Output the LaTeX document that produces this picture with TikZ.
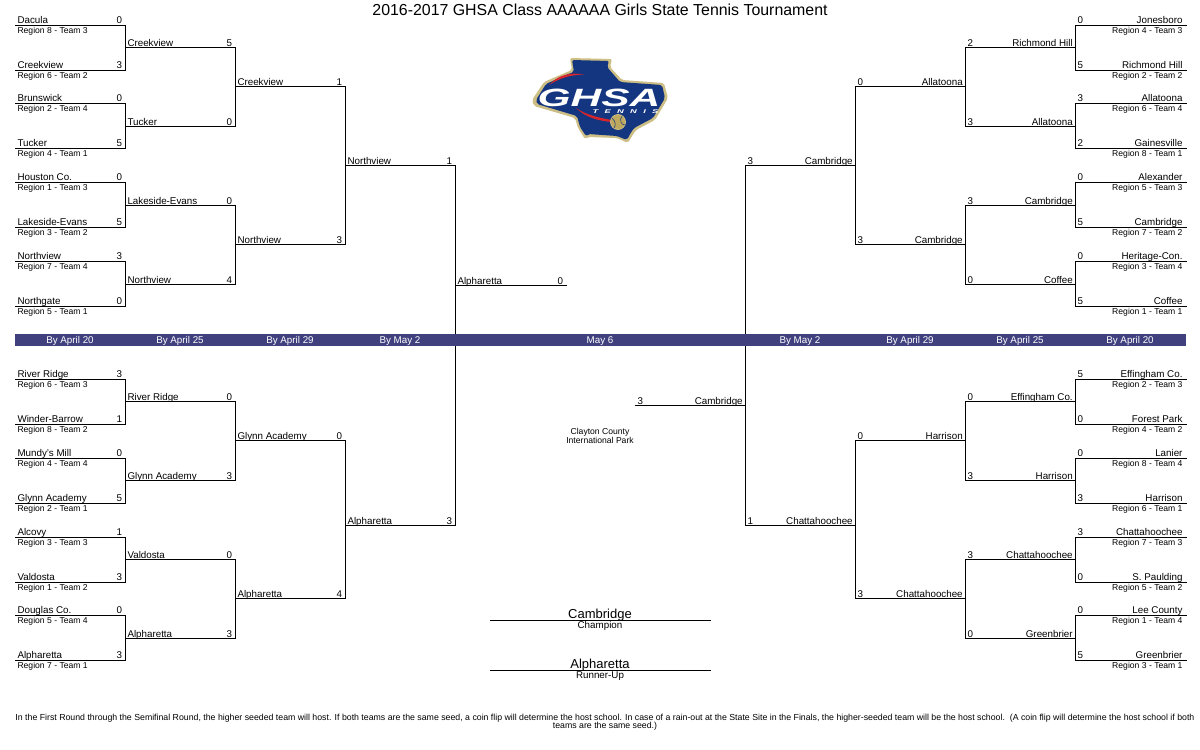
\documentclass[tikz,border=0pt]{standalone}
\usepackage{fontspec}
\setmainfont{Liberation Sans}
\newfontfamily\logofont[FakeStretch=1.7]{Liberation Sans}
\definecolor{bandblue}{HTML}{40407F}
\definecolor{logoblue}{HTML}{14357F}
\definecolor{logogold}{HTML}{CDBE85}
\definecolor{logoball}{HTML}{BFA95F}
\definecolor{logored}{HTML}{D5252D}
\tikzset{
  every node/.style={inner sep=0pt,font=\fontsize{9.8}{10}\selectfont},
  slot/.style={line width=1pt,line cap=rect},
  small/.style={font=\fontsize{8.6}{9}\selectfont},
  lteam/.style={anchor=base west,xshift=2pt,yshift=1.8pt},
  lseed/.style={anchor=base east,xshift=-2.5pt,yshift=1.8pt},
  lreg/.style={small,anchor=base west,xshift=2pt,yshift=-8.3pt},
  lname/.style={anchor=base west,xshift=2pt,yshift=1pt},
  lscore/.style={anchor=base east,xshift=-2.5pt,yshift=1pt},
  rteam/.style={anchor=base east,xshift=-3pt,yshift=1.8pt},
  rseed/.style={anchor=base west,xshift=2pt,yshift=1.8pt},
  rreg/.style={small,anchor=base east,xshift=-3pt,yshift=-8.3pt},
  rname/.style={anchor=base east,xshift=-1.8pt,yshift=1pt},
  rscore/.style={anchor=base west,xshift=2pt,yshift=1pt},
  datelabel/.style={anchor=base,text=white},
}
\begin{document}
\begin{tikzpicture}[x=1pt,y=-1pt]
\useasboundingbox (0,0) rectangle (1200,750);
\node[anchor=base,font=\fontsize{15.9}{18}\selectfont] (title) at (600,15) {2016-2017 GHSA Class AAAAAA Girls State Tennis Tournament};
% left side, top half
\draw[slot] (15,25) node[lteam] (lta1n) {Dacula} node[lreg] (lta1r) {Region 8 - Team 3} -- (125,25) node[lseed] (lta1s) {0} coordinate (lta1);
\draw[slot] (15,70.3) node[lteam] (lta2n) {Creekview} node[lreg] (lta2r) {Region 6 - Team 2} -- (125,70.3) node[lseed] (lta2s) {3} coordinate (lta2);
\draw[slot] (15,103.3) node[lteam] (lta3n) {Brunswick} node[lreg] (lta3r) {Region 2 - Team 4} -- (125,103.3) node[lseed] (lta3s) {0} coordinate (lta3);
\draw[slot] (15,148.3) node[lteam] (lta4n) {Tucker} node[lreg] (lta4r) {Region 4 - Team 1} -- (125,148.3) node[lseed] (lta4s) {5} coordinate (lta4);
\draw[slot] (15,182.3) node[lteam] (lta5n) {Houston Co.} node[lreg] (lta5r) {Region 1 - Team 3} -- (125,182.3) node[lseed] (lta5s) {0} coordinate (lta5);
\draw[slot] (15,227.5) node[lteam] (lta6n) {Lakeside-Evans} node[lreg] (lta6r) {Region 3 - Team 2} -- (125,227.5) node[lseed] (lta6s) {5} coordinate (lta6);
\draw[slot] (15,261.3) node[lteam] (lta7n) {Northview} node[lreg] (lta7r) {Region 7 - Team 4} -- (125,261.3) node[lseed] (lta7s) {3} coordinate (lta7);
\draw[slot] (15,306.3) node[lteam] (lta8n) {Northgate} node[lreg] (lta8r) {Region 5 - Team 1} -- (125,306.3) node[lseed] (lta8s) {0} coordinate (lta8);
\draw[slot] (125,47.3) node[lname] (ltb1n) {Creekview} -- (235,47.3) node[lscore] (ltb1s) {5} coordinate (ltb1);
\draw[slot] (125,126.3) node[lname] (ltb2n) {Tucker} -- (235,126.3) node[lscore] (ltb2s) {0} coordinate (ltb2);
\draw[slot] (125,205) node[lname] (ltb3n) {Lakeside-Evans} -- (235,205) node[lscore] (ltb3s) {0} coordinate (ltb3);
\draw[slot] (125,284) node[lname] (ltb4n) {Northview} -- (235,284) node[lscore] (ltb4s) {4} coordinate (ltb4);
\draw[slot] (235,86.3) node[lname] (ltc1n) {Creekview} -- (345,86.3) node[lscore] (ltc1s) {1} coordinate (ltc1);
\draw[slot] (235,244) node[lname] (ltc2n) {Northview} -- (345,244) node[lscore] (ltc2s) {3} coordinate (ltc2);
\draw[slot] (345,165) node[lname] (ltdn) {Northview} -- (455,165) node[lscore] (ltds) {1} coordinate (ltd);
% left side, bottom half
\draw[slot] (15,379) node[lteam] (lba1n) {River Ridge} node[lreg] (lba1r) {Region 6 - Team 3} -- (125,379) node[lseed] (lba1s) {3} coordinate (lba1);
\draw[slot] (15,424) node[lteam] (lba2n) {Winder-Barrow} node[lreg] (lba2r) {Region 8 - Team 2} -- (125,424) node[lseed] (lba2s) {1} coordinate (lba2);
\draw[slot] (15,458) node[lteam] (lba3n) {Mundy's Mill} node[lreg] (lba3r) {Region 4 - Team 4} -- (125,458) node[lseed] (lba3s) {0} coordinate (lba3);
\draw[slot] (15,503) node[lteam] (lba4n) {Glynn Academy} node[lreg] (lba4r) {Region 2 - Team 1} -- (125,503) node[lseed] (lba4s) {5} coordinate (lba4);
\draw[slot] (15,537) node[lteam] (lba5n) {Alcovy} node[lreg] (lba5r) {Region 3 - Team 3} -- (125,537) node[lseed] (lba5s) {1} coordinate (lba5);
\draw[slot] (15,582) node[lteam] (lba6n) {Valdosta} node[lreg] (lba6r) {Region 1 - Team 2} -- (125,582) node[lseed] (lba6s) {3} coordinate (lba6);
\draw[slot] (15,615.3) node[lteam] (lba7n) {Douglas Co.} node[lreg] (lba7r) {Region 5 - Team 4} -- (125,615.3) node[lseed] (lba7s) {0} coordinate (lba7);
\draw[slot] (15,660.3) node[lteam] (lba8n) {Alpharetta} node[lreg] (lba8r) {Region 7 - Team 1} -- (125,660.3) node[lseed] (lba8s) {3} coordinate (lba8);
\draw[slot] (125,401) node[lname] (lbb1n) {River Ridge} -- (235,401) node[lscore] (lbb1s) {0} coordinate (lbb1);
\draw[slot] (125,480) node[lname] (lbb2n) {Glynn Academy} -- (235,480) node[lscore] (lbb2s) {3} coordinate (lbb2);
\draw[slot] (125,559) node[lname] (lbb3n) {Valdosta} -- (235,559) node[lscore] (lbb3s) {0} coordinate (lbb3);
\draw[slot] (125,638) node[lname] (lbb4n) {Alpharetta} -- (235,638) node[lscore] (lbb4s) {3} coordinate (lbb4);
\draw[slot] (235,440) node[lname] (lbc1n) {Glynn Academy} -- (345,440) node[lscore] (lbc1s) {0} coordinate (lbc1);
\draw[slot] (235,598) node[lname] (lbc2n) {Alpharetta} -- (345,598) node[lscore] (lbc2s) {4} coordinate (lbc2);
\draw[slot] (345,525) node[lname] (lbdn) {Alpharetta} -- (455,525) node[lscore] (lbds) {3} coordinate (lbd);
% right side, top half
\draw[slot] (1075,25) coordinate (rta1) node[rseed] (rta1s) {0} -- (1186,25) node[rteam] (rta1n) {Jonesboro} node[rreg] (rta1r) {Region 4 - Team 3};
\draw[slot] (1075,70.3) coordinate (rta2) node[rseed] (rta2s) {5} -- (1186,70.3) node[rteam] (rta2n) {Richmond Hill} node[rreg] (rta2r) {Region 2 - Team 2};
\draw[slot] (1075,103.3) coordinate (rta3) node[rseed] (rta3s) {3} -- (1186,103.3) node[rteam] (rta3n) {Allatoona} node[rreg] (rta3r) {Region 6 - Team 4};
\draw[slot] (1075,148.3) coordinate (rta4) node[rseed] (rta4s) {2} -- (1186,148.3) node[rteam] (rta4n) {Gainesville} node[rreg] (rta4r) {Region 8 - Team 1};
\draw[slot] (1075,182.3) coordinate (rta5) node[rseed] (rta5s) {0} -- (1186,182.3) node[rteam] (rta5n) {Alexander} node[rreg] (rta5r) {Region 5 - Team 3};
\draw[slot] (1075,227.5) coordinate (rta6) node[rseed] (rta6s) {5} -- (1186,227.5) node[rteam] (rta6n) {Cambridge} node[rreg] (rta6r) {Region 7 - Team 2};
\draw[slot] (1075,261.3) coordinate (rta7) node[rseed] (rta7s) {0} -- (1186,261.3) node[rteam] (rta7n) {Heritage-Con.} node[rreg] (rta7r) {Region 3 - Team 4};
\draw[slot] (1075,306.3) coordinate (rta8) node[rseed] (rta8s) {5} -- (1186,306.3) node[rteam] (rta8n) {Coffee} node[rreg] (rta8r) {Region 1 - Team 1};
\draw[slot] (965,47.3) coordinate (rtb1) node[rscore] (rtb1s) {2} -- (1075,47.3) node[rname] (rtb1n) {Richmond Hill};
\draw[slot] (965,126.3) coordinate (rtb2) node[rscore] (rtb2s) {3} -- (1075,126.3) node[rname] (rtb2n) {Allatoona};
\draw[slot] (965,205) coordinate (rtb3) node[rscore] (rtb3s) {3} -- (1075,205) node[rname] (rtb3n) {Cambridge};
\draw[slot] (965,284) coordinate (rtb4) node[rscore] (rtb4s) {0} -- (1075,284) node[rname] (rtb4n) {Coffee};
\draw[slot] (855,86.3) coordinate (rtc1) node[rscore] (rtc1s) {0} -- (965,86.3) node[rname] (rtc1n) {Allatoona};
\draw[slot] (855,244) coordinate (rtc2) node[rscore] (rtc2s) {3} -- (965,244) node[rname] (rtc2n) {Cambridge};
\draw[slot] (745,165) coordinate (rtd) node[rscore] (rtds) {3} -- (855,165) node[rname] (rtdn) {Cambridge};
% right side, bottom half
\draw[slot] (1075,379) coordinate (rba1) node[rseed] (rba1s) {5} -- (1186,379) node[rteam] (rba1n) {Effingham Co.} node[rreg] (rba1r) {Region 2 - Team 3};
\draw[slot] (1075,424) coordinate (rba2) node[rseed] (rba2s) {0} -- (1186,424) node[rteam] (rba2n) {Forest Park} node[rreg] (rba2r) {Region 4 - Team 2};
\draw[slot] (1075,458) coordinate (rba3) node[rseed] (rba3s) {0} -- (1186,458) node[rteam] (rba3n) {Lanier} node[rreg] (rba3r) {Region 8 - Team 4};
\draw[slot] (1075,503) coordinate (rba4) node[rseed] (rba4s) {3} -- (1186,503) node[rteam] (rba4n) {Harrison} node[rreg] (rba4r) {Region 6 - Team 1};
\draw[slot] (1075,537) coordinate (rba5) node[rseed] (rba5s) {3} -- (1186,537) node[rteam] (rba5n) {Chattahoochee} node[rreg] (rba5r) {Region 7 - Team 3};
\draw[slot] (1075,582) coordinate (rba6) node[rseed] (rba6s) {0} -- (1186,582) node[rteam] (rba6n) {S. Paulding} node[rreg] (rba6r) {Region 5 - Team 2};
\draw[slot] (1075,615.3) coordinate (rba7) node[rseed] (rba7s) {0} -- (1186,615.3) node[rteam] (rba7n) {Lee County} node[rreg] (rba7r) {Region 1 - Team 4};
\draw[slot] (1075,660.3) coordinate (rba8) node[rseed] (rba8s) {5} -- (1186,660.3) node[rteam] (rba8n) {Greenbrier} node[rreg] (rba8r) {Region 3 - Team 1};
\draw[slot] (965,401) coordinate (rbb1) node[rscore] (rbb1s) {0} -- (1075,401) node[rname] (rbb1n) {Effingham Co.};
\draw[slot] (965,480) coordinate (rbb2) node[rscore] (rbb2s) {3} -- (1075,480) node[rname] (rbb2n) {Harrison};
\draw[slot] (965,559) coordinate (rbb3) node[rscore] (rbb3s) {3} -- (1075,559) node[rname] (rbb3n) {Chattahoochee};
\draw[slot] (965,638) coordinate (rbb4) node[rscore] (rbb4s) {0} -- (1075,638) node[rname] (rbb4n) {Greenbrier};
\draw[slot] (855,440) coordinate (rbc1) node[rscore] (rbc1s) {0} -- (965,440) node[rname] (rbc1n) {Harrison};
\draw[slot] (855,598) coordinate (rbc2) node[rscore] (rbc2s) {3} -- (965,598) node[rname] (rbc2n) {Chattahoochee};
\draw[slot] (745,525) coordinate (rbd) node[rscore] (rbds) {1} -- (855,525) node[rname] (rbdn) {Chattahoochee};
% finalists
\draw[slot] (455,285.3) node[lname] (finaln) {Alpharetta} -- (566,285.3) node[lscore] (finals) {0};
\draw[slot] (635,405.3) node[rscore] (finbs) {3} -- (745,405.3) node[rname] (finbn) {Cambridge};
% joins
\draw[slot] (lta1) -- (lta2); \draw[slot] (lta3) -- (lta4); \draw[slot] (lta5) -- (lta6); \draw[slot] (lta7) -- (lta8);
\draw[slot] (ltb1) -- (ltb2); \draw[slot] (ltb3) -- (ltb4); \draw[slot] (ltc1) -- (ltc2);
\draw[slot] (lba1) -- (lba2); \draw[slot] (lba3) -- (lba4); \draw[slot] (lba5) -- (lba6); \draw[slot] (lba7) -- (lba8);
\draw[slot] (lbb1) -- (lbb2); \draw[slot] (lbb3) -- (lbb4); \draw[slot] (lbc1) -- (lbc2);
\draw[slot] (ltd) -- (lbd);
\draw[slot] (rta1) -- (rta2); \draw[slot] (rta3) -- (rta4); \draw[slot] (rta5) -- (rta6); \draw[slot] (rta7) -- (rta8);
\draw[slot] (rtb1) -- (rtb2); \draw[slot] (rtb3) -- (rtb4); \draw[slot] (rtc1) -- (rtc2);
\draw[slot] (rba1) -- (rba2); \draw[slot] (rba3) -- (rba4); \draw[slot] (rba5) -- (rba6); \draw[slot] (rba7) -- (rba8);
\draw[slot] (rbb1) -- (rbb2); \draw[slot] (rbb3) -- (rbb4); \draw[slot] (rbc1) -- (rbc2);
\draw[slot] (rtd) -- (rbd);
% date band
\fill[bandblue] (15,334) rectangle (1186,346);
\node[datelabel] (date1) at (70,343.5) {By April 20};
\node[datelabel] (date2) at (180,343.5) {By April 25};
\node[datelabel] (date3) at (290,343.5) {By April 29};
\node[datelabel] (date4) at (400,343.5) {By May 2};
\node[datelabel] (date5) at (600,343.5) {May 6};
\node[datelabel] (date6) at (800,343.5) {By May 2};
\node[datelabel] (date7) at (910,343.5) {By April 29};
\node[datelabel] (date8) at (1020,343.5) {By April 25};
\node[datelabel] (date9) at (1130,343.5) {By April 20};
% site, winners, note
\node[small,anchor=base] (site1) at (600,434) {Clayton County};
\node[small,anchor=base] (site2) at (600,443.6) {International Park};
\draw[slot] (490,620.3) -- (710.5,620.3);
\node[anchor=base,font=\fontsize{13}{14}\selectfont] (champ) at (600,618) {Cambridge};
\node[anchor=base] (champlab) at (600,628.4) {Champion};
\draw[slot] (490,670.3) -- (710.5,670.3);
\node[anchor=base,font=\fontsize{13}{14}\selectfont] (runner) at (600,668) {Alpharetta};
\node[anchor=base] (runnerlab) at (600,678.4) {Runner-Up};
\node[anchor=north,align=center,font=\fontsize{8.76}{7.8}\selectfont] (note) at (605,714) {In the First Round through the Semifinal Round, the higher seeded team will host. If both teams are the same seed, a coin flip will determine the host school. In case of a rain-out at the State Site in the Finals, the higher-seeded team will be the host school.\ \ (A coin flip will determine the host school if both\\[-1.5pt]teams are the same seed.)};
% logo
\fill[logogold,rounded corners=2pt] (570,58) -- (612,59) -- (610,67) -- (622,80) -- (664,83) -- (668,98) -- (655,120) -- (636,130) -- (632,136) -- (628,143) -- (617,138) -- (588,137) -- (585,139) -- (578,128) -- (575,118) -- (534,106) -- (532,100) -- (544,82) -- (567,72) -- (572,70) -- cycle;
\fill[logoblue,rounded corners=2pt] (572,60) -- (609,61) -- (607,67) -- (620,82) -- (662,85) -- (665,98) -- (653,118) -- (634,128) -- (630,134) -- (627,140) -- (617,136) -- (588,134) -- (586,136) -- (580,127) -- (577,116) -- (537,104) -- (536,100) -- (546,84) -- (568,74) -- (574,72) -- cycle;
\fill[logored] (549,85) .. controls (558,75) and (570,72) .. (584,74.5) .. controls (570,75) and (560,78) .. (549,85) -- cycle;
\fill[logored] (576,108) .. controls (586,115) and (600,118) .. (612,120) -- (612,122) .. controls (598,121) and (585,117) .. (576,108) -- cycle;
\node[anchor=base,text=white,text height=18pt,text depth=0pt,font=\logofont\fontsize{25}{26}\bfseries\itshape\selectfont] (logotext) at (599,106) {GHSA};
\node[anchor=base,text=white,text height=4pt,text depth=0pt,font=\logofont\fontsize{5.5}{6}\bfseries\itshape\selectfont\addfontfeature{LetterSpace=115}] (logosub) at (625.5,113.3) {TENNIS};
\fill[logoball,draw=logogold,line width=0.8pt] (618,122) circle (7.5);
\draw[logoblue,line width=0.5pt] (612,118) .. controls (616,122) and (616,125) .. (614,128);
\draw[logoblue,line width=0.5pt] (622,116) .. controls (619,120) and (621,125) .. (625,125);
\end{tikzpicture}
\end{document}
